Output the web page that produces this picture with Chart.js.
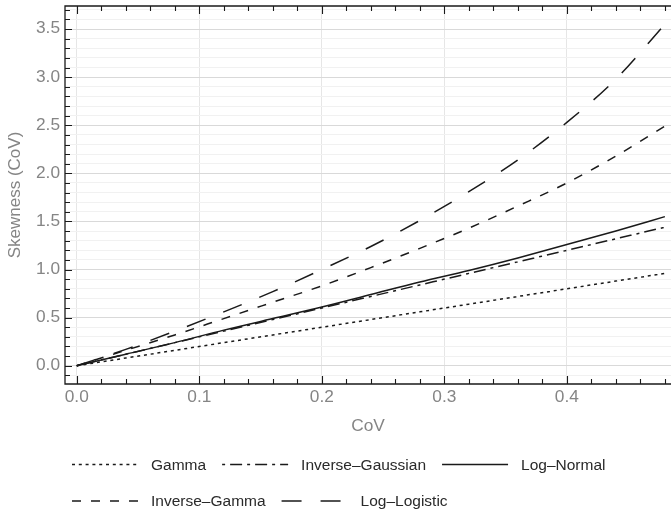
<!DOCTYPE html>
<html>
<head>
<meta charset="utf-8">
<title>Skewness vs CoV</title>
<script src="https://cdn.jsdelivr.net/npm/chart.js@4.4.1/dist/chart.umd.min.js"></script>
<style>
  html, body { margin: 0; padding: 0; background: #fff; }
  #wrap { width: 671px; height: 515px; }
</style>
</head>
<body>
<div id="wrap"><canvas id="skewChart" width="671" height="515"></canvas></div>
<script>
// coefficient of variation (x) and skewness of each distribution at that CoV
const cov         = [0, 0.04, 0.08, 0.12, 0.16, 0.20, 0.24, 0.28, 0.32, 0.36, 0.40, 0.44, 0.48];
const gamma       = [0, 0.08, 0.16, 0.24, 0.32, 0.40, 0.48, 0.56, 0.64, 0.72, 0.80, 0.88, 0.96];
const invGaussian = [0, 0.12, 0.24, 0.36, 0.48, 0.60, 0.72, 0.84, 0.96, 1.08, 1.20, 1.32, 1.44];
const logNormal   = [0, 0.12, 0.24, 0.37, 0.49, 0.61, 0.74, 0.87, 0.99, 1.12, 1.26, 1.40, 1.55];
const invGamma    = [0, 0.16, 0.32, 0.49, 0.66, 0.83, 1.02, 1.22, 1.43, 1.66, 1.90, 2.18, 2.49];
const logLogistic = [0, 0.17, 0.36, 0.56, 0.77, 1.00, 1.24, 1.51, 1.81, 2.14, 2.53, 2.98, 3.55];

const xLabels = [0, 0.1, 0.2, 0.3, 0.4];
const yLabels = [0, 0.5, 1.0, 1.5, 2.0, 2.5, 3.0, 3.5];

const series = [
  { label: 'Gamma',                 values: gamma,       dash: [3, 3.8] },
  { label: 'Inverse\u2013Gaussian', values: invGaussian, dash: [3, 5, 12, 5] },
  { label: 'Log\u2013Normal',       values: logNormal,   dash: [] },
  { label: 'Inverse\u2013Gamma',    values: invGamma,    dash: [9, 10] },
  { label: 'Log\u2013Logistic',     values: logLogistic, dash: [20, 19] }
];

const INK = '#1a1a1a';
const AXIS_GREY = '#858585';
const SANS = "'Liberation Sans', Arial, sans-serif";
const LEGEND_FONT = '15.5px ' + SANS;
const WIDEN = 1.08;   // axis text is set a little wider than the legend

// every 0.1 on y gets a faint grid line, every 0.5 a stronger one
const yGrid = [];
for (let i = -1; i <= 37; i++) yGrid.push(i / 10);
const isMajorY = v => Math.abs(v * 2 - Math.round(v * 2)) < 1e-6;

function axisText(ctx, text, x, y, align) {
  ctx.save();
  ctx.translate(x, y);
  ctx.scale(WIDEN, 1);
  ctx.textAlign = align;
  ctx.fillText(text, 0, 0);
  ctx.restore();
}

// frame with inward tick marks, plus the tick labels
const framePlugin = {
  id: 'frame',
  afterDraw(chart) {
    const { ctx, chartArea: a, scales: { x, y } } = chart;
    ctx.save();
    ctx.strokeStyle = INK;
    ctx.lineWidth = 1.3;
    ctx.beginPath();
    ctx.moveTo(a.right, a.top); ctx.lineTo(a.left, a.top);
    ctx.lineTo(a.left, a.bottom); ctx.lineTo(a.right, a.bottom);
    ctx.stroke();

    ctx.lineWidth = 1.1;
    ctx.beginPath();
    for (let i = 0; i <= 24; i++) {
      const px = Math.round(x.getPixelForValue(i / 50)) + 0.5;
      if (px > a.right) break;
      const len = i % 5 === 0 ? 8 : 5;
      ctx.moveTo(px, a.bottom); ctx.lineTo(px, a.bottom - len);
      ctx.moveTo(px, a.top);    ctx.lineTo(px, a.top + len);
    }
    yGrid.forEach(v => {
      const py = Math.round(y.getPixelForValue(v)) + 0.5;
      const len = isMajorY(v) ? 7 : 5;
      ctx.moveTo(a.left, py); ctx.lineTo(a.left + len, py);
    });
    ctx.stroke();

    ctx.fillStyle = AXIS_GREY;
    ctx.textBaseline = 'middle';
    ctx.font = '16px ' + SANS;
    xLabels.forEach(v => axisText(ctx, v.toFixed(1), x.getPixelForValue(v), a.bottom + 14, 'center'));
    yLabels.forEach(v => axisText(ctx, v.toFixed(1), a.left - 5, y.getPixelForValue(v), 'right'));

    axisText(ctx, 'CoV', (a.left + a.right) / 2, a.bottom + 43, 'center');
    ctx.restore();
  }
};

// two-row legend under the plot
const legendPlugin = {
  id: 'rowLegend',
  afterDraw(chart) {
    const ctx = chart.ctx;
    const rows = [[0, 1, 2], [3, 4]];
    const rowY = [464.5, 501];
    const sampleW = 66, textGap = 13, itemGap = 16;
    ctx.save();
    ctx.font = LEGEND_FONT;
    ctx.textBaseline = 'middle';
    rows.forEach((row, r) => {
      let cx = 72;
      row.forEach(idx => {
        const s = series[idx];
        ctx.strokeStyle = INK;
        ctx.lineWidth = 1.5;
        ctx.setLineDash(s.dash);
        ctx.beginPath();
        ctx.moveTo(cx, rowY[r]);
        ctx.lineTo(cx + sampleW, rowY[r]);
        ctx.stroke();
        ctx.setLineDash([]);
        cx += sampleW + textGap;
        ctx.fillStyle = '#2a2a2a';
        ctx.fillText(s.label, cx, rowY[r] + 1);
        cx += ctx.measureText(s.label).width + itemGap;
      });
    });
    ctx.restore();
  }
};

const datasets = series.map(s => ({
  label: s.label,
  data: cov.map((c, i) => ({ x: c, y: s.values[i] })),
  borderColor: INK,
  borderWidth: 1.5,
  borderDash: s.dash,
  pointRadius: 0,
  fill: false,
  cubicInterpolationMode: 'monotone'
}));

new Chart(document.getElementById('skewChart'), {
  type: 'line',
  data: { datasets },
  options: {
    responsive: false,
    animation: false,
    layout: { padding: { top: 6, left: 0, right: 0, bottom: 0 } },
    plugins: {
      legend: { display: false },
      tooltip: { enabled: false }
    },
    scales: {
      x: {
        type: 'linear',
        min: -0.0096,
        max: 0.485,
        afterBuildTicks: scale => { scale.ticks = xLabels.map(v => ({ value: v })); },
        afterFit: scale => { scale.height = 131; scale.paddingLeft = 0; scale.paddingRight = 0; },
        border: { display: false },
        grid: { color: '#e6e6e6', lineWidth: 1, drawTicks: false },
        ticks: { display: false }
      },
      y: {
        type: 'linear',
        min: -0.19,
        max: 3.74,
        afterBuildTicks: scale => { scale.ticks = yGrid.map(v => ({ value: v })); },
        afterFit: scale => { scale.width = 65; scale.paddingTop = 0; scale.paddingBottom = 0; },
        border: { display: false },
        grid: {
          drawTicks: false,
          lineWidth: 1,
          color: c => isMajorY(c.tick.value) ? '#d9d9d9' : '#f1f1f1'
        },
        ticks: { display: false },
        title: {
          display: true,
          text: 'Skewness (CoV)',
          color: AXIS_GREY,
          font: { family: SANS, size: 17 },
          padding: { top: 5, bottom: 0 }
        }
      }
    }
  },
  plugins: [framePlugin, legendPlugin]
});
</script>
</body>
</html>
